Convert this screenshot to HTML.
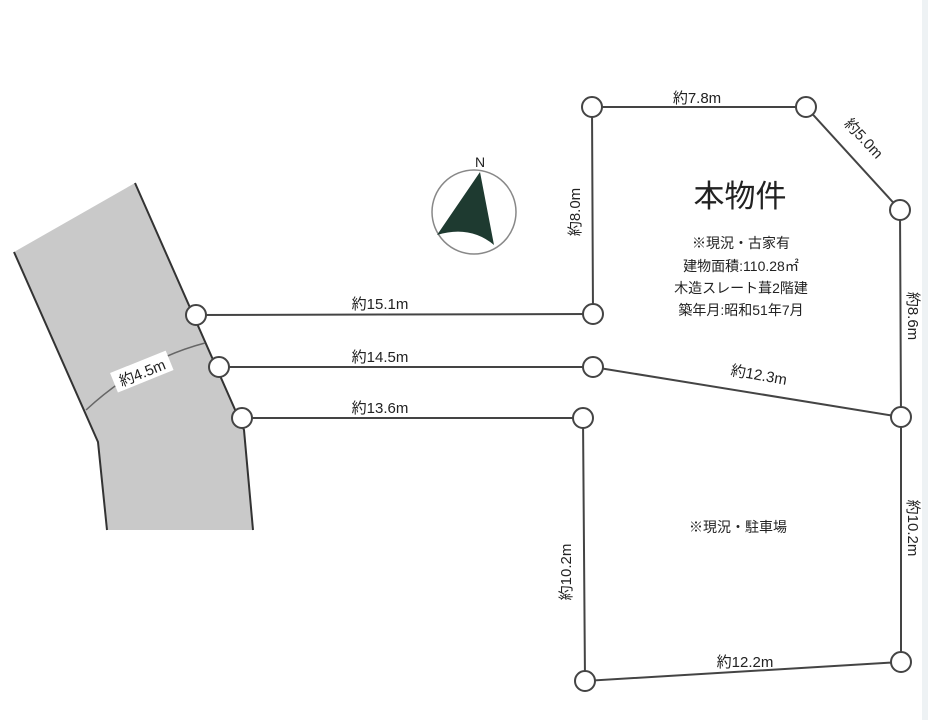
<!DOCTYPE html>
<html><head><meta charset="utf-8"><style>
html,body{margin:0;padding:0;background:#fff;width:928px;height:720px;overflow:hidden}
svg{display:block}
text{font-family:"Liberation Sans","Noto Sans CJK JP",sans-serif;fill:#222}
</style></head><body>
<svg width="928" height="720" viewBox="0 0 928 720" xmlns="http://www.w3.org/2000/svg">
<rect x="922" y="0" width="6" height="720" fill="#eef2f4"/>
<!-- road -->
<polygon points="14,252 135,183 244,430 253,530 107,530 98,442" fill="#c9c9c9"/>
<polyline points="14,252 98,442 107,530" fill="none" stroke="#333" stroke-width="2"/>
<polyline points="135,183 244,430 253,530" fill="none" stroke="#333" stroke-width="2"/>
<path d="M86,410 Q140,360 205,343" fill="none" stroke="#666" stroke-width="1.5"/>
<g transform="translate(142,372) rotate(-22)">
<rect x="-30" y="-11" width="60" height="21" fill="#fff"/>
<text x="0" y="6" font-size="15" text-anchor="middle">約4.5m</text></g>
<!-- lines -->
<g stroke="#444" stroke-width="2" fill="none">
<line x1="196" y1="315" x2="593" y2="314"/>
<polyline points="593,314 592,107 806,107 900,210 901,417 901,662 585,681 583,418 242,418"/>
<line x1="219" y1="367" x2="593" y2="367"/>
<line x1="593" y1="367" x2="901" y2="417"/>
</g>
<g stroke="#444" stroke-width="2" fill="#fff">
<circle cx="196" cy="315" r="10"/><circle cx="219" cy="367" r="10"/><circle cx="242" cy="418" r="10"/>
<circle cx="593" cy="314" r="10"/><circle cx="592" cy="107" r="10"/><circle cx="806" cy="107" r="10"/>
<circle cx="900" cy="210" r="10"/><circle cx="593" cy="367" r="10"/><circle cx="901" cy="417" r="10"/>
<circle cx="583" cy="418" r="10"/><circle cx="585" cy="681" r="10"/><circle cx="901" cy="662" r="10"/>
</g>
<!-- compass -->
<circle cx="474" cy="212" r="42" fill="none" stroke="#888" stroke-width="1.5"/>
<path d="M480,172 L437,235 Q470,225 494,245 Z" fill="#1e3a30"/>
<text x="480" y="167" font-size="14" text-anchor="middle">N</text>
<!-- labels -->
<g font-size="15">
<text x="380" y="309" text-anchor="middle">約15.1m</text>
<text x="380" y="362" text-anchor="middle">約14.5m</text>
<text x="380" y="413" text-anchor="middle">約13.6m</text>
<text x="697" y="103" text-anchor="middle">約7.8m</text>
<text x="745" y="667" text-anchor="middle">約12.2m</text>
<text transform="translate(860,142) rotate(47)" text-anchor="middle">約5.0m</text>
<text transform="translate(758,380) rotate(10)" text-anchor="middle">約12.3m</text>
<text transform="translate(580,212) rotate(-90)" text-anchor="middle">約8.0m</text>
<text transform="translate(571,572) rotate(-90)" text-anchor="middle">約10.2m</text>
<text transform="translate(908,316) rotate(90)" text-anchor="middle">約8.6m</text>
<text transform="translate(908,528) rotate(90)" text-anchor="middle">約10.2m</text>
<text x="738" y="532" text-anchor="middle" font-size="14">※現況・駐車場</text>
</g>
<text x="740" y="207" font-size="31" text-anchor="middle">本物件</text>
<g font-size="14" text-anchor="middle">
<text x="741" y="248">※現況・古家有</text>
<text x="741" y="271">建物面積:110.28㎡</text>
<text x="741" y="293">木造スレート葺2階建</text>
<text x="741" y="315">築年月:昭和51年7月</text>
</g>
</svg>
</body></html>
